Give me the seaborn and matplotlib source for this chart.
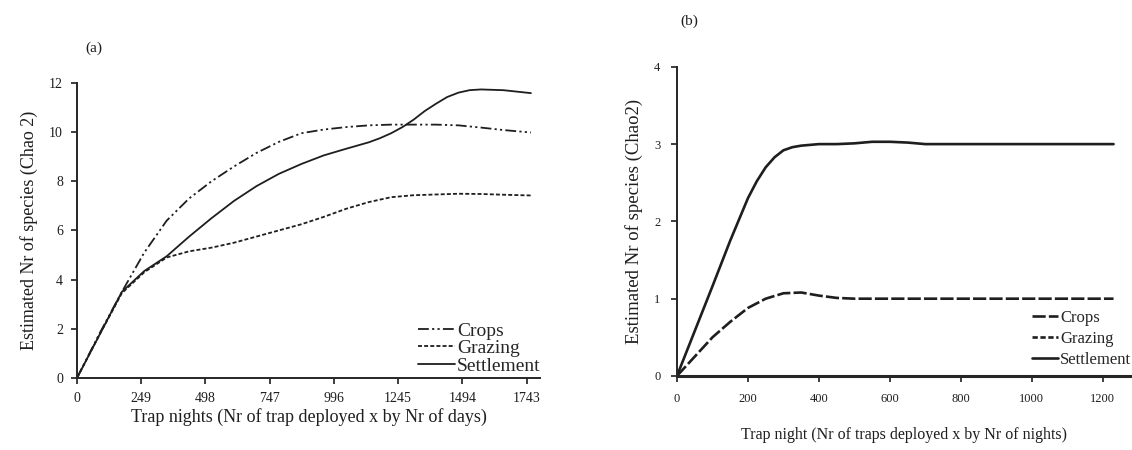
import matplotlib
matplotlib.use("Agg")
import matplotlib.pyplot as plt
import seaborn as sns
import pandas as pd

# ---------------- data ----------------
series_names = ["Crops", "Grazing", "Settlement"]

# panel (a)
a_crops_x = [0, 87, 174, 261, 348, 435, 522, 609, 696, 783, 870, 957, 1044,
             1131, 1218, 1305, 1392, 1479, 1566, 1653, 1760]
a_crops = [0, 1.8, 3.5, 5.1, 6.4, 7.3, 8.0, 8.6, 9.15, 9.6, 9.95, 10.1, 10.2,
           10.27, 10.3, 10.3, 10.3, 10.27, 10.18, 10.08, 9.98]
a_grazing_x = [0, 87, 174, 261, 348, 435, 522, 609, 696, 783, 870, 957, 1044,
               1131, 1218, 1305, 1392, 1479, 1566, 1653, 1760]
a_grazing = [0, 1.75, 3.45, 4.3, 4.9, 5.15, 5.3, 5.5, 5.75, 6.0, 6.25, 6.55, 6.88,
             7.15, 7.35, 7.43, 7.46, 7.49, 7.48, 7.45, 7.42]
a_settlement_x = [0, 87, 174, 261, 348, 435, 522, 609, 696, 783, 870, 957, 1044,
                  1131, 1175, 1218, 1262, 1305, 1348, 1392, 1435, 1479, 1522,
                  1566, 1653, 1760]
a_settlement = [0, 1.75, 3.5, 4.35, 4.95, 5.75, 6.5, 7.2, 7.8, 8.3, 8.7, 9.05, 9.32,
                9.58, 9.75, 9.95, 10.2, 10.5, 10.85, 11.15, 11.42, 11.6, 11.7,
                11.73, 11.7, 11.58]
a_xticks = [0, 249, 498, 747, 996, 1245, 1494, 1743]
a_yticks = [0, 2, 4, 6, 8, 10, 12]

# panel (b)
b_crops_x = [0, 50, 100, 150, 200, 250, 300, 350, 400, 450, 500, 600, 700, 800,
             900, 1000, 1100, 1200, 1230]
b_crops = [0, 0.25, 0.5, 0.7, 0.88, 1.0, 1.07, 1.08, 1.04, 1.01, 1.0, 1.0, 1.0, 1.0,
           1.0, 1.0, 1.0, 1.0, 1.0]
b_grazing_x = [0, 200, 400, 600, 800, 1000, 1200, 1230]
b_grazing = [0, 0, 0, 0, 0, 0, 0, 0]
b_settlement_x = [0, 50, 100, 150, 200, 225, 250, 275, 300, 325, 350, 400, 450, 500,
                  550, 600, 650, 700, 800, 900, 1000, 1100, 1200, 1230]
b_settlement = [0, 0.58, 1.16, 1.75, 2.3, 2.52, 2.7, 2.83, 2.92, 2.96, 2.98, 3.0, 3.0,
                3.01, 3.03, 3.03, 3.02, 3.0, 3.0, 3.0, 3.0, 3.0, 3.0, 3.0]
b_xticks = [0, 200, 400, 600, 800, 1000, 1200]
b_yticks = [0, 1, 2, 3, 4]


def long_df(xs, ys):
    rows = []
    for name, x, vals in zip(series_names, xs, ys):
        for xi, yi in zip(x, vals):
            rows.append({"t": xi, "v": yi, "series": name})
    return pd.DataFrame(rows)


df_a = long_df([a_crops_x, a_grazing_x, a_settlement_x],
               [a_crops, a_grazing, a_settlement])
df_b = long_df([b_crops_x, b_grazing_x, b_settlement_x],
               [b_crops, b_grazing, b_settlement])

# ---------------- style ----------------
sns.set_theme(style="ticks")
plt.rcParams["font.family"] = ["Liberation Serif", "DejaVu Serif"]
plt.rcParams["axes.linewidth"] = 1.4
ink = "#1e1e1e"
palette = {n: ink for n in series_names}

fig = plt.figure(figsize=(11.32, 4.5), dpi=100)
ax_a = fig.add_axes([0.068, 0.16, 0.409, 0.656])
ax_b = fig.add_axes([0.598, 0.1645, 0.402, 0.687])

# ---------------- panel (a) ----------------
dashes_a = {"Crops": (6, 1.8, 1.2, 1.8, 1.2, 1.8), "Grazing": (2.2, 1.2), "Settlement": ""}
sns.lineplot(data=df_a, x="t", y="v", hue="series", style="series",
             palette=palette, dashes=dashes_a, ax=ax_a, linewidth=1.3,
             legend="full")
ax_a.set_xlim(0, 1795)
ax_a.set_ylim(0, 12)
ax_a.set_xticks(a_xticks)
ax_a.set_yticks(a_yticks)
ax_a.tick_params(axis="both", labelsize=10, length=4, width=1.2, colors=ink,
                 direction="out", pad=6)
ax_a.set_xlabel("Trap nights (Nr of trap deployed x by Nr of days)", fontsize=13,
                color=ink, labelpad=2)
ax_a.set_ylabel("Estimated Nr of species (Chao 2)", fontsize=13, color=ink, labelpad=8)
sns.despine(ax=ax_a)
h, l = ax_a.get_legend_handles_labels()
ax_a.legend(h, l, loc="center left", bbox_to_anchor=(0.72, 0.10), frameon=False,
            fontsize=14, handlelength=1.9, handletextpad=0.1, labelspacing=0.0,
            borderaxespad=0)
fig.text(0.075, 0.885, "(a)", fontsize=11, color=ink)

# ---------------- panel (b) ----------------
dashes_b = {"Crops": (5, 1.2), "Grazing": (2, 1), "Settlement": ""}
sns.lineplot(data=df_b, x="t", y="v", hue="series", style="series",
             palette=palette, dashes=dashes_b, ax=ax_b, linewidth=1.9,
             legend="full")
ax_b.set_xlim(0, 1282)
ax_b.set_ylim(0, 4)
ax_b.set_xticks(b_xticks)
ax_b.set_yticks(b_yticks)
ax_b.spines["bottom"].set_linewidth(2.2)
ax_b.tick_params(axis="both", labelsize=9, length=4, width=1.2, colors=ink,
                 direction="out", pad=8)
ax_b.set_xlabel("Trap night (Nr of traps deployed x by Nr of nights)", fontsize=11.5,
                color=ink, labelpad=16)
ax_b.set_ylabel("Estimated Nr of species (Chao2)", fontsize=13.5, color=ink, labelpad=8)
sns.despine(ax=ax_b)
h, l = ax_b.get_legend_handles_labels()
ax_b.legend(h, l, loc="center left", bbox_to_anchor=(0.765, 0.12), frameon=False,
            fontsize=12, handlelength=1.6, handletextpad=0.1, labelspacing=0.3,
            borderaxespad=0)
fig.text(0.601, 0.945, "(b)", fontsize=11, color=ink)

fig.savefig("out.png", dpi=100)
